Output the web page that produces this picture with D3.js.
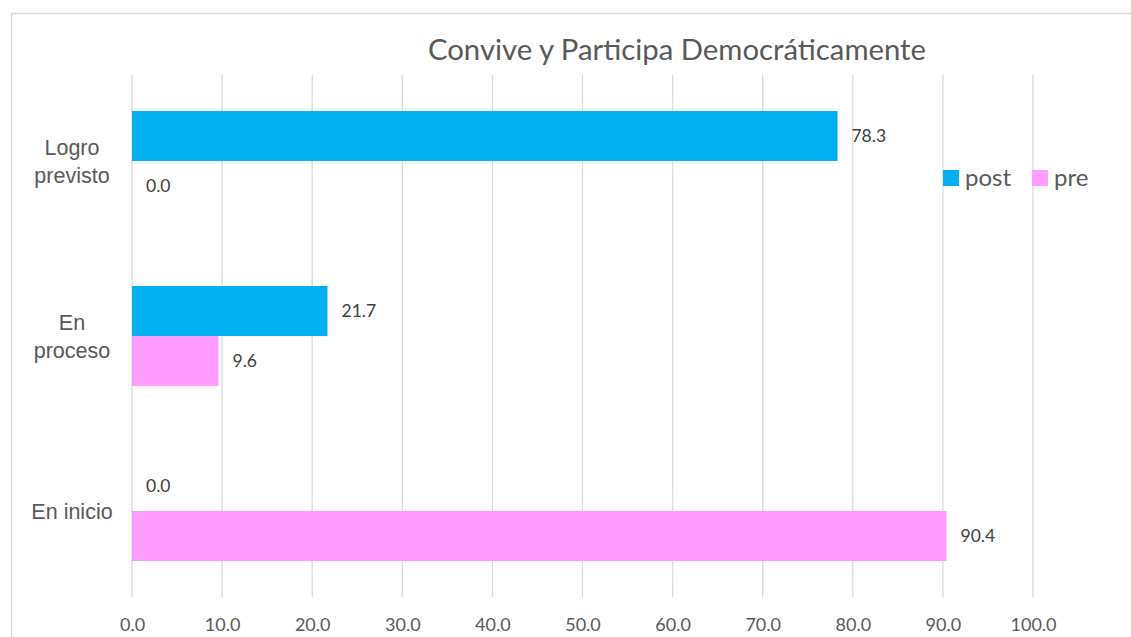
<!DOCTYPE html>
<html><head><meta charset="utf-8">
<script src="https://cdn.jsdelivr.net/npm/d3@7"></script>
<style>body{margin:0;background:#fff}svg{display:block}</style>
</head><body>
<script>
const categories = ["Logro previsto", "En proceso", "En inicio"];
const categoryLines = [["Logro", "previsto"], ["En", "proceso"], ["En inicio"]];
const seriesNames = ["post", "pre"];
const postValues = [78.3, 21.7, 0.0];
const preValues = [0.0, 9.6, 90.4];
const xTicks = [0, 10, 20, 30, 40, 50, 60, 70, 80, 90, 100];
const title = "Convive y Participa Democráticamente";

const W = 1131, H = 637;
const colors = {post: "#00B0F0", pre: "#FF9CFF"};
const svg = d3.select("body").append("svg").attr("width", W).attr("height", H);

// chart border
svg.append("path").attr("d", `M11.5,${H} V13.5 H${W}`).attr("fill", "none").attr("stroke", "#D9D9D9").attr("stroke-width", 1.5);

const x = d3.scaleLinear().domain([0, 100]).range([132, 1033]);
const y = d3.scaleBand().domain(categories).range([73.5, 598.5]).paddingInner(0).paddingOuter(0);
const inner = d3.scaleBand().domain(seriesNames).range([0, y.bandwidth()]).paddingInner(0).paddingOuter(0.75);

// gridlines
svg.append("g").selectAll("line").data(xTicks).join("line")
  .attr("x1", d => x(d)).attr("x2", d => x(d)).attr("y1", 75).attr("y2", 597)
  .attr("stroke", "#D9D9D9").attr("stroke-width", 1.3);

// x axis labels
const xAxis = d3.axisBottom(x).tickValues(xTicks).tickFormat(d3.format(".1f")).tickSize(0);
const gx = svg.append("g").attr("transform", "translate(0,615)").call(xAxis);
gx.select(".domain").remove();
gx.selectAll("text").attr("font-family", "Lato, 'Open Sans', sans-serif").attr("font-size", 18).attr("fill", "#595959");

// bars
const rows = categories.map((c, i) => ({c, post: postValues[i], pre: preValues[i]}));
const g = svg.append("g");
rows.forEach(r => {
  seriesNames.forEach(s => {
    const v = r[s];
    const yy = y(r.c) + inner(s);
    g.append("rect").attr("x", x(0)).attr("y", yy).attr("width", x(v) - x(0)).attr("height", inner.bandwidth()).attr("fill", colors[s]);
    g.append("text").attr("x", x(v) + 14).attr("y", yy + inner.bandwidth() / 2).attr("dy", "0.35em")
      .attr("font-family", "Lato, 'Open Sans', sans-serif").attr("font-size", 17.5).attr("fill", "#404040")
      .text(d3.format(".1f")(v));
  });
});

// category labels
categories.forEach((c, i) => {
  const lines = categoryLines[i];
  const cy = y(c) + y.bandwidth() / 2;
  const lh = 28;
  const t = svg.append("text").attr("text-anchor", "middle").attr("font-family", "'Liberation Sans', Arial, sans-serif")
    .attr("font-size", 21.5).attr("fill", "#595959");
  lines.forEach((l, k) => {
    t.append("tspan").attr("x", 72).attr("y", cy + (k - (lines.length - 1) / 2) * lh).attr("dy", "0.35em").text(l);
  });
});

// title
svg.append("text").attr("x", 677).attr("y", 50).attr("dy", "0.35em").attr("text-anchor", "middle")
  .attr("font-family", "Lato, 'Open Sans', sans-serif").attr("font-size", 29.3).attr("fill", "#595959").text(title);

// legend
const legX = [943, 1032];
seriesNames.forEach((s, i) => {
  svg.append("rect").attr("x", legX[i]).attr("y", 170).attr("width", 16).attr("height", 16).attr("fill", colors[s]);
  svg.append("text").attr("x", legX[i] + 22).attr("y", 178).attr("dy", "0.35em")
    .attr("font-family", "Lato, 'Open Sans', sans-serif").attr("font-size", 24).attr("fill", "#595959").text(s);
});
</script>
</body></html>
